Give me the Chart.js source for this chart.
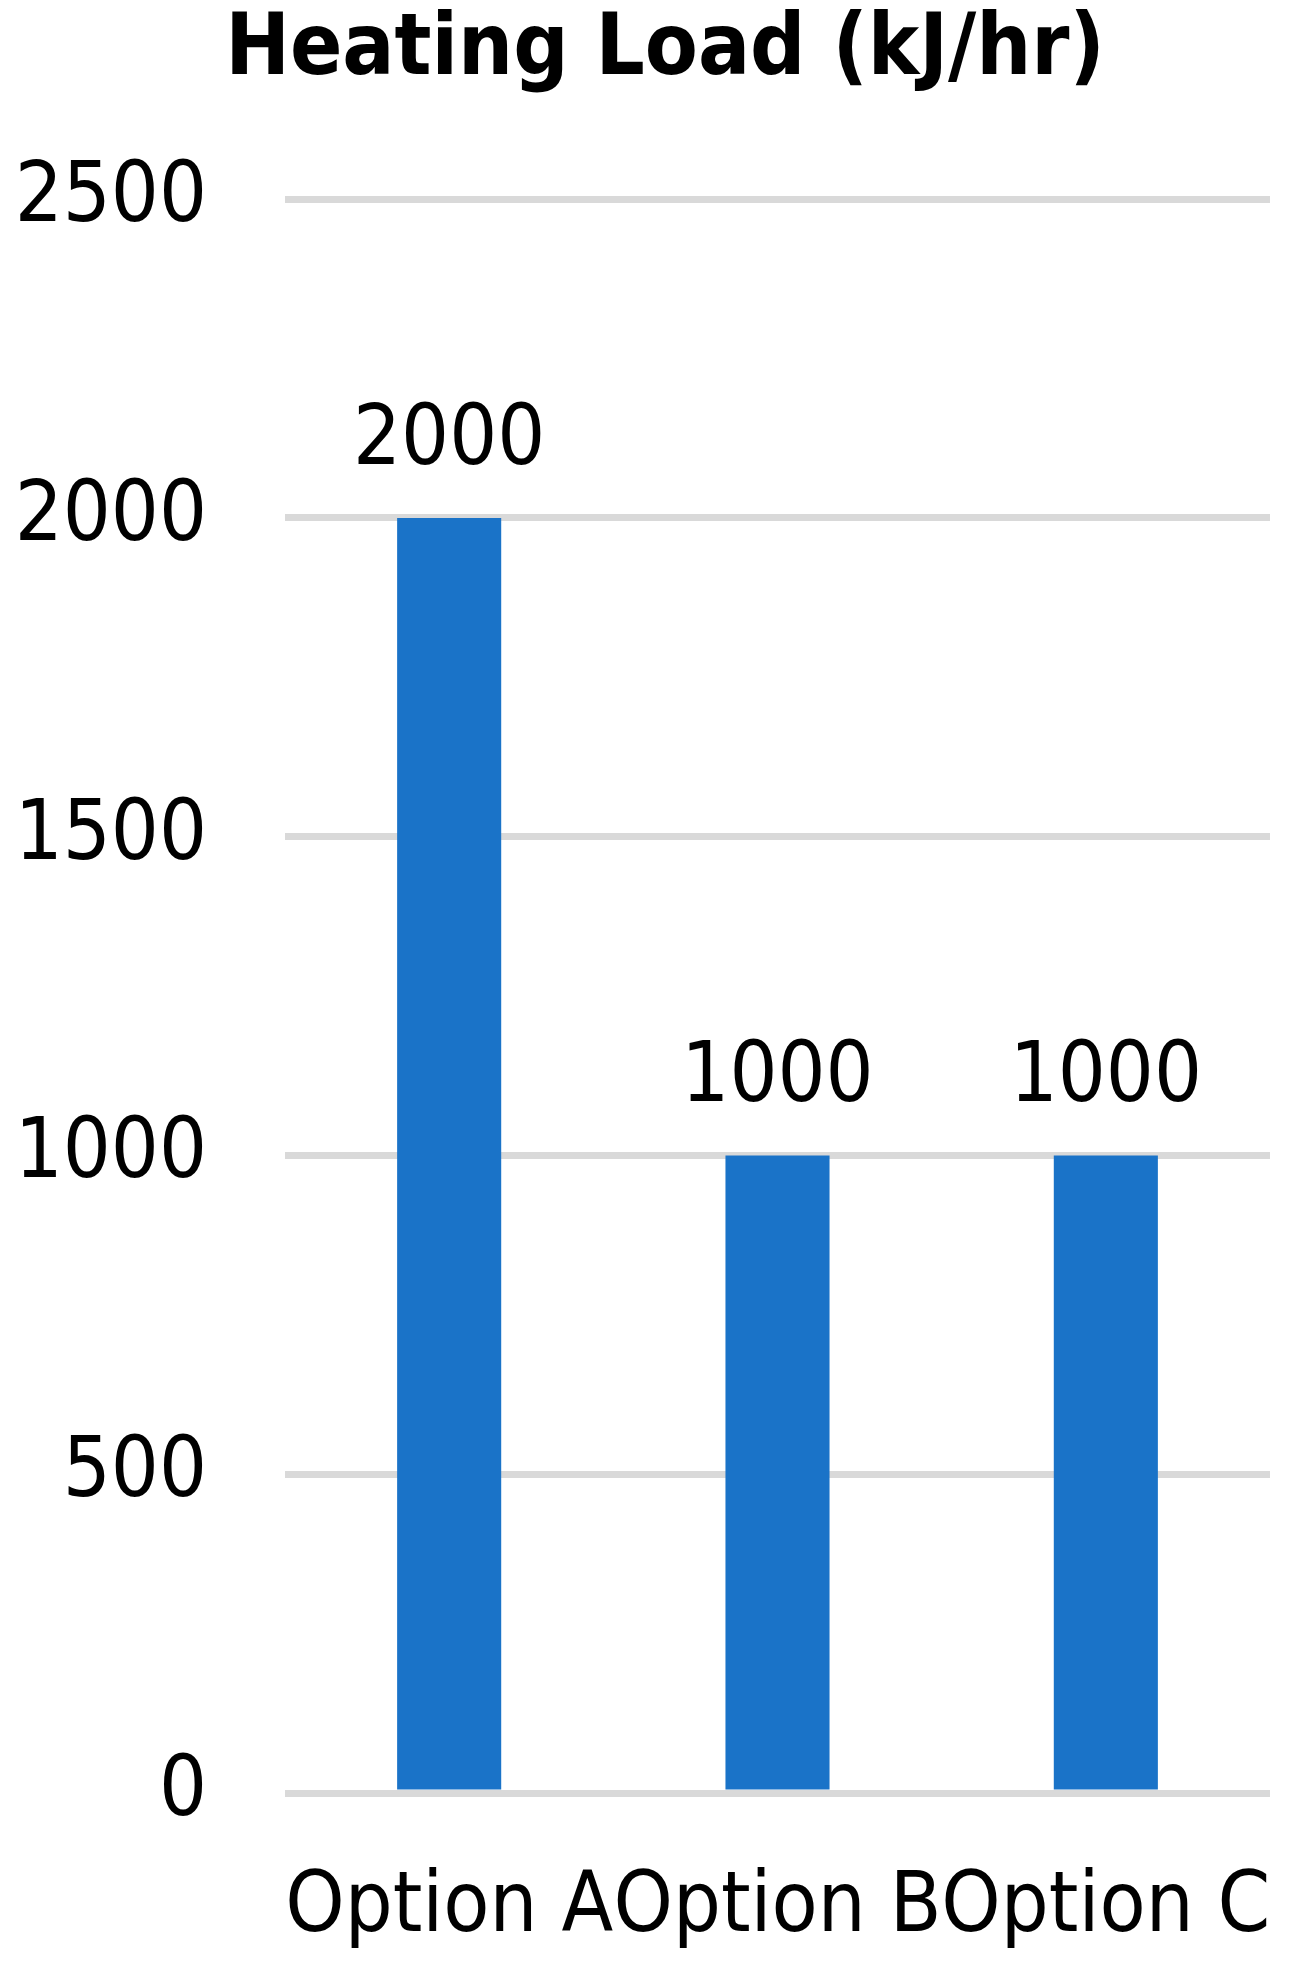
<!DOCTYPE html>
<html>
<head>
<meta charset="utf-8">
<title>Heating Load</title>
<script src="https://cdn.jsdelivr.net/npm/chart.js@4.4.1/dist/chart.umd.min.js"></script>
<style>
  html, body { margin: 0; padding: 0; background: #fff; }
  #wrap { width: 1296px; height: 1973px; position: relative; }
</style>
</head>
<body>
<div id="wrap"><canvas id="myChart"></canvas></div>
<script>
const categories = ["Option A", "Option B", "Option C"];
const heatingLoad = [2000, 1000, 1000];
const yTicks = [0, 500, 1000, 1500, 2000, 2500];

const FONT = "'DejaVu Sans Condensed', 'DejaVu Sans', sans-serif";

// value labels above each bar
const barLabels = {
  id: "barLabels",
  afterDatasetsDraw(chart) {
    const ctx = chart.ctx;
    const meta = chart.getDatasetMeta(0);
    ctx.save();
    ctx.font = "84px " + FONT;
    ctx.fillStyle = "#000";
    ctx.textAlign = "center";
    ctx.textBaseline = "alphabetic";
    meta.data.forEach((bar, i) => {
      ctx.fillText(String(heatingLoad[i]), bar.x, bar.y - 54);
    });
    ctx.restore();
  },
};

// title sits a bit right of the canvas centre in the original
const titleShift = {
  id: "titleShift",
  afterLayout(chart) {
    const t = chart.titleBlock;
    if (t) {
      t.left += 30;
      t.right += 30;
    }
  },
};

const ctx = document.getElementById("myChart");
new Chart(ctx, {
  type: "bar",
  data: {
    labels: categories,
    datasets: [
      {
        label: "Heating Load",
        data: heatingLoad,
        backgroundColor: "#1a73c8",
        borderWidth: 0,
        categoryPercentage: 1,
        barPercentage: 0.317,
      },
    ],
  },
  options: {
    responsive: true,
    maintainAspectRatio: false,
    animation: false,
    layout: {
      padding: { left: 0, right: 26, top: 0, bottom: 21 },
    },
    plugins: {
      legend: { display: false },
      tooltip: { enabled: false },
      title: {
        display: true,
        text: "Heating Load (kJ/hr)",
        color: "#000",
        font: { family: FONT, size: 86, weight: "bold", lineHeight: 1.2 },
        padding: { top: 0, bottom: 96 },
      },
    },
    scales: {
      x: {
        afterFit(scale) {
          scale.height = 159;
          scale.paddingLeft = 0;
          scale.paddingRight = 0;
        },
        grid: { display: false },
        border: { display: false },
        ticks: {
          color: "#000",
          font: { family: FONT, size: 84 },
          padding: 58,
          autoSkip: false,
          maxRotation: 0,
          minRotation: 0,
        },
      },
      y: {
        min: 0,
        max: 2500,
        afterFit(scale) {
          scale.width = 285;
        },
        afterBuildTicks(scale) {
          scale.ticks = yTicks.map((v) => ({ value: v }));
        },
        grid: {
          color: "#d9d9d9",
          lineWidth: 7,
          drawTicks: false,
        },
        border: { display: false },
        ticks: {
          color: "#000",
          font: { family: FONT, size: 84 },
          padding: 78,
          callback: (v) => String(v),
        },
      },
    },
  },
  plugins: [barLabels, titleShift],
});
</script>
</body>
</html>
